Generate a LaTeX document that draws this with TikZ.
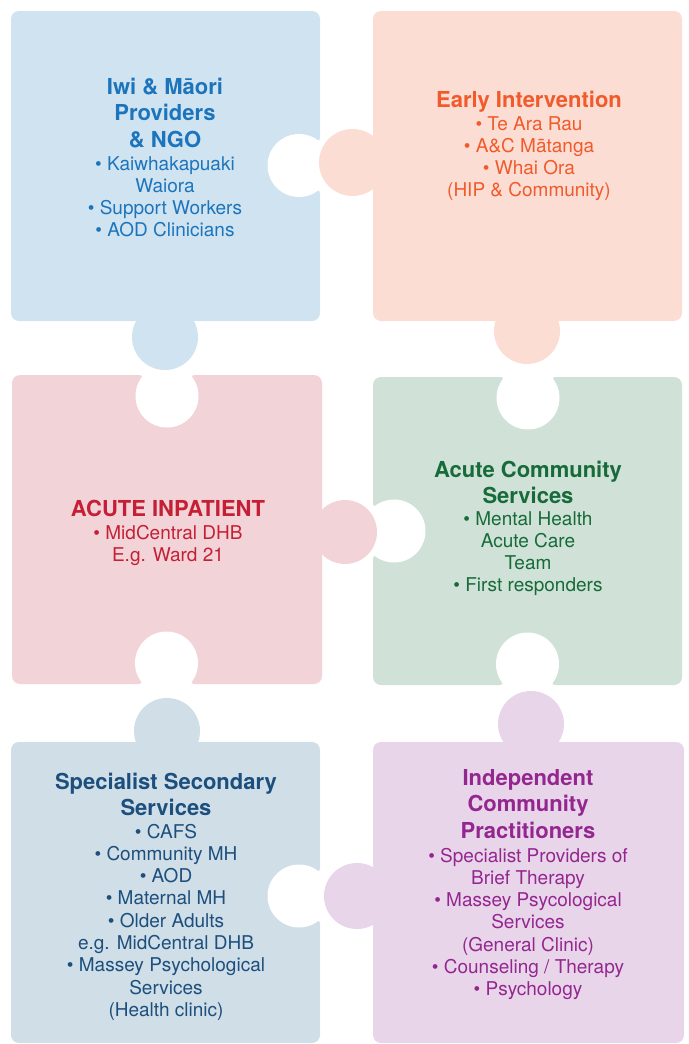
\documentclass[tikz,border=0pt]{standalone}
\usepackage{fontspec}
\setmainfont{TeX Gyre Heros}
\definecolor{bluefill}{HTML}{D0E3F1}
\definecolor{bluetext}{HTML}{1C75BC}
\definecolor{peachfill}{HTML}{FCDDD4}
\definecolor{orangetext}{HTML}{F15A2B}
\definecolor{pinkfill}{HTML}{F2D3D7}
\definecolor{redtext}{HTML}{C51F36}
\definecolor{greenfill}{HTML}{D0E1D7}
\definecolor{greentext}{HTML}{176B3A}
\definecolor{slatefill}{HTML}{CFDEE7}
\definecolor{navytext}{HTML}{1C4F7D}
\definecolor{lilacfill}{HTML}{E9D5E9}
\definecolor{purpletext}{HTML}{93278F}
\tikzset{
  body/.style={rounded corners=8pt},
  titletext/.style={inner sep=0pt, anchor=base, font=\fontsize{22}{26}\selectfont\bfseries},
  itemtext/.style={inner sep=0pt, anchor=base, font=\fontsize{19}{22}\selectfont},
  % notch cut into a piece: edge along local x axis, piece interior towards local +y
  hole/.pic={
    \fill[white] (0,21) circle[radius=31.5];
    \fill[white] (-27.5,-1) -- (-27.5,0) .. controls (-25,0) and (-24.5,1) .. (-25,3)
      -- (25,3) .. controls (24.5,1) and (25,0) .. (27.5,0) -- (27.5,-1) -- cycle;
  }
}
% #1 name prefix, #2 colour, #3 centre x, #4 first title baseline,
% #5 first item baseline, #6 title lines, #7 item lines
\newcommand\piecetext[7]{%
  \foreach [count=\i] \t in {#6}
    \node[titletext, text=#2] (#1t\i) at (#3, {#4+26.7*(\i-1)}) {\t};
  \foreach [count=\i] \t in {#7}
    \node[itemtext, text=#2] (#1i\i) at (#3, {#5+22.3*(\i-1)}) {\t};
}
\begin{document}
\begin{tikzpicture}[x=1pt, y=-1pt]
\useasboundingbox (0,0) rectangle (688,1044);

% piece bodies
\fill[bluefill, body]  (11,11)   rectangle (320,321);
\fill[peachfill, body] (373,11)  rectangle (682,321);
\fill[pinkfill, body]  (12,375)  rectangle (322,684);
\fill[greenfill, body] (373,377) rectangle (682,685);
\fill[slatefill, body] (11,742)  rectangle (320,1043);
\fill[lilacfill, body] (373,742) rectangle (684,1043);

% notches
\pic[rotate=-90] at (320,165.5) {hole};
\pic at (167,375) {hole};
\pic[rotate=180] at (166.5,684) {hole};
\pic at (528,377) {hole};
\pic[rotate=90] at (373,531) {hole};
\pic[rotate=180] at (527.5,685) {hole};
\pic[rotate=-90] at (320,896) {hole};

% tabs
\fill[bluefill]  (165,337)   circle[radius=33];
\fill[peachfill] (352.5,162.5) circle[radius=33.5];
\fill[peachfill] (527,331)   circle[radius=33];
\fill[pinkfill]  (345,532)   circle[radius=32];
\fill[slatefill] (167,731)   circle[radius=33];
\fill[lilacfill] (531,724)   circle[radius=33];
\fill[lilacfill] (357,896)   circle[radius=33];

% texts
\piecetext{iwi}{bluetext}{165}{94}{170}
  {Iwi \& Māori,Providers,\& NGO}
  {• Kaiwhakapuaki,Waiora,• Support Workers,• AOD Clinicians}
\piecetext{early}{orangetext}{529}{107}{130}
  {Early Intervention}
  {• Te Ara Rau,• A\&C Mātanga,• Whai Ora,(HIP \& Community)}
\piecetext{inpat}{redtext}{168}{516}{539}
  {ACUTE INPATIENT}
  {• MidCentral DHB,E.g. Ward 21}
\piecetext{acute}{greentext}{528}{477}{525}
  {Acute Community,Services}
  {• Mental Health,Acute Care,Team,• First responders}
\piecetext{spec}{navytext}{166}{789}{838}
  {Specialist Secondary,Services}
  {• CAFS,• Community MH,• AOD,• Maternal MH,• Older Adults,e.g. MidCentral DHB,• Massey Psychological,Services,(Health clinic)}
\piecetext{indep}{purpletext}{528}{785}{862}
  {Independent,Community,Practitioners}
  {• Specialist Providers of,Brief Therapy,• Massey Psycological,Services,(General Clinic),• Counseling / Therapy,• Psychology}
\end{tikzpicture}
\end{document}
